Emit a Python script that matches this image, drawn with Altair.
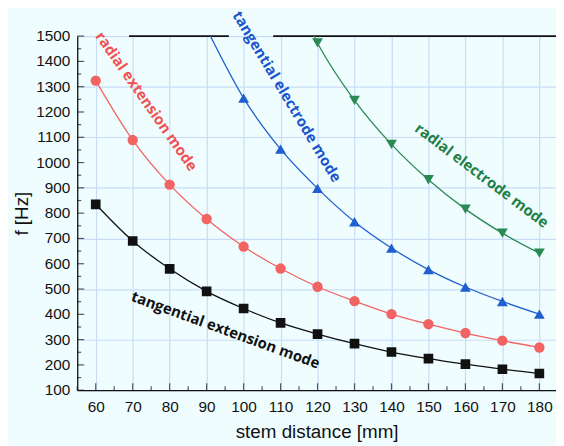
import altair as alt
import pandas as pd

distance = [60, 70, 80, 90, 100, 110, 120, 130, 140, 150, 160, 170, 180]
tang_ext = [835, 690, 580, 491, 423, 366, 322, 284, 251, 225, 203, 183, 166]
rad_ext = [1324, 1089, 913, 777, 668, 581, 509, 452, 401, 361, 326, 296, 269]
tang_el_x = [90, 100, 110, 120, 130, 140, 150, 160, 170, 180]
tang_el = [1530, 1255, 1053, 898, 766, 662, 577, 508, 451, 401]
rad_el_x = [110, 120, 130, 140, 150, 160, 170, 180]
rad_el = [1800, 1473, 1246, 1072, 932, 816, 721, 642]

label_text = ["radial extension mode", "tangential electrode mode",
              "radial electrode mode", "tangential extension mode"]
label_x = [73.7, 111.7, 164.4, 95.1]
label_y = [1242, 1261, 949, 338]
label_angle = [55, 59, 37, 20]
label_color = ["#f05252", "#1a55cc", "#217f45", "#111111"]

frame_x = [69, 108]
frame_x2 = [96, 184.5]

x_major = list(range(60, 181, 10))
x_minor = list(range(55, 186, 10))
y_major = list(range(100, 1501, 100))
y_minor = list(range(150, 1500, 100))

BG = "#effdff"
GRID = "#c8dcf8"

xs = alt.Scale(domain=[55, 184.5], nice=False, zero=False)
ys = alt.Scale(domain=[100, 1500], nice=False, zero=False)

def X(field):
    return alt.X(field, scale=xs)

def Y(field):
    return alt.Y(field, scale=ys)

def series(xv, yv, color, shape, size, points_from=0):
    df = pd.DataFrame({"d": xv, "f": yv})
    line = alt.Chart(df).mark_line(color=color, strokeWidth=1.3, interpolate="monotone", clip=True).encode(
        x=X("d:Q"), y=Y("f:Q"))
    pts = alt.Chart(df.iloc[points_from:]).mark_point(color=color, fill=color, filled=True, opacity=1,
                                                       shape=shape, size=size, clip=True).encode(
        x=X("d:Q"), y=Y("f:Q"))
    return line + pts

xaxis = alt.Axis(values=x_major, grid=True, ticks=False, format="d",
                 labelPadding=10, title="stem distance [mm]", titlePadding=7)
yaxis = alt.Axis(values=y_major, grid=True, ticks=False, labels=False,
                 title="f [Hz]", titlePadding=46)

base = alt.Chart(pd.DataFrame({"d": [55, 184.5], "f": [100, 1500]})).mark_point(opacity=0).encode(
    x=alt.X("d:Q", scale=xs, axis=xaxis), y=alt.Y("f:Q", scale=ys, axis=yaxis))

ylabels = alt.Chart(pd.DataFrame({"f": y_major, "d": [55] * len(y_major),
                                  "t": [str(v) for v in y_major]})).mark_text(
    font="Liberation Sans", fontSize=15.5, color="#111", align="right", baseline="middle", xOffset=-7).encode(
    y=Y("f:Q"), x=X("d:Q"), text="t:N")

xt_major = alt.Chart(pd.DataFrame({"d": x_major, "f": [100] * len(x_major)})).mark_tick(
    orient="vertical", size=7, thickness=1.2, color="#111", yOffset=-3.5).encode(
    x=X("d:Q"), y=Y("f:Q"))
xt_minor = alt.Chart(pd.DataFrame({"d": x_minor, "f": [100] * len(x_minor)})).mark_tick(
    orient="vertical", size=4, thickness=1.2, color="#111", yOffset=-2).encode(
    x=X("d:Q"), y=Y("f:Q"))
yt_major = alt.Chart(pd.DataFrame({"f": y_major, "d": [55] * len(y_major)})).mark_tick(
    orient="horizontal", size=7, thickness=1.2, color="#111", xOffset=3.5).encode(
    y=Y("f:Q"), x=X("d:Q"))
yt_minor = alt.Chart(pd.DataFrame({"f": y_minor, "d": [55] * len(y_minor)})).mark_tick(
    orient="horizontal", size=4, thickness=1.2, color="#111", xOffset=2).encode(
    y=Y("f:Q"), x=X("d:Q"))

frame = alt.Chart(pd.DataFrame({"d": frame_x, "b": frame_x2, "f": [1500, 1500]})).mark_rule(
    color="#111", strokeWidth=1.6).encode(
    x=X("d:Q"), x2="b:Q", y=Y("f:Q"))

labels = []
for t, lx, ly, ang, col in zip(label_text, label_x, label_y, label_angle, label_color):
    labels.append(alt.Chart(pd.DataFrame({"d": [lx], "f": [ly], "t": [t]})).mark_text(
        font="Open Sans", fontWeight="bold", fontSize=15, angle=ang, color=col,
        align="center", baseline="middle").encode(
        x=X("d:Q"), y=Y("f:Q"), text="t:N"))

chart = alt.layer(
    base, frame,
    series(distance, tang_ext, "#111111", "square", 95),
    series(distance, rad_ext, "#f26464", "circle", 110),
    series(tang_el_x, tang_el, "#1f5fd0", "triangle-up", 120, points_from=1),
    series(rad_el_x, rad_el, "#2a8a55", "triangle-down", 120, points_from=1),
    xt_major, xt_minor, yt_major, yt_minor, ylabels,
    *labels
).properties(
    width=484, height=358,
    autosize=alt.AutoSizeParams(type="none"),
    padding={"left": 70, "top": 26, "right": 0, "bottom": 56},
    background=BG,
).configure_view(stroke=None).configure_axis(
    labelOverlap=False, labelFont="Liberation Sans", labelFontSize=15.5, labelColor="#111",
    titleFont="Liberation Sans", titleFontSize=19, titleFontWeight="normal", titleColor="#111",
    gridColor=GRID, gridWidth=1.2, domainColor="#111", domainWidth=1.3,
)

chart.save("out.html", embed_options={"renderer": "svg", "actions": False})
